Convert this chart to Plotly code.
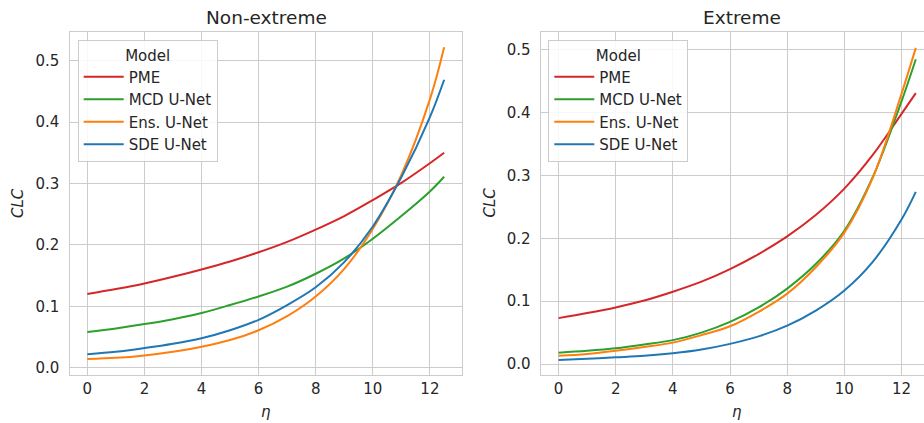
import plotly.graph_objects as go

# eta grid shared by every curve
eta = [0, 1, 2, 3, 4, 5, 6, 7, 8, 9, 10, 11, 12, 12.5]

# Non-extreme CLC per model
ne_pme = [0.120, 0.128, 0.137, 0.148, 0.160, 0.173, 0.188, 0.205, 0.225, 0.247, 0.273, 0.301, 0.333, 0.350]
ne_mcd = [0.058, 0.064, 0.071, 0.079, 0.089, 0.102, 0.116, 0.132, 0.153, 0.178, 0.210, 0.247, 0.287, 0.311]
ne_ens = [0.014, 0.016, 0.020, 0.026, 0.034, 0.045, 0.061, 0.084, 0.116, 0.161, 0.226, 0.314, 0.437, 0.522]
ne_sde = [0.022, 0.026, 0.032, 0.039, 0.048, 0.061, 0.078, 0.102, 0.131, 0.172, 0.230, 0.310, 0.408, 0.469]

# Extreme CLC per model
ex_pme = [0.073, 0.081, 0.090, 0.101, 0.115, 0.131, 0.151, 0.175, 0.203, 0.237, 0.279, 0.333, 0.398, 0.431]
ex_mcd = [0.018, 0.021, 0.025, 0.031, 0.038, 0.050, 0.067, 0.090, 0.120, 0.159, 0.212, 0.298, 0.418, 0.485]
ex_ens = [0.013, 0.016, 0.021, 0.027, 0.034, 0.046, 0.060, 0.083, 0.112, 0.154, 0.209, 0.297, 0.430, 0.503]
ex_sde = [0.0064, 0.0083, 0.0106, 0.013, 0.017, 0.023, 0.032, 0.044, 0.061, 0.085, 0.117, 0.163, 0.230, 0.274]

models = ["PME", "MCD U-Net", "Ens. U-Net", "SDE U-Net"]
colors = ["#d62728", "#2ca02c", "#ff7f0e", "#1f77b4"]

panels = [
    ("x", "y", "legend", [ne_pme, ne_mcd, ne_ens, ne_sde]),
    ("x2", "y2", "legend2", [ex_pme, ex_mcd, ex_ens, ex_sde]),
]

FONT = "DejaVu Sans"
TXT = "#262626"
GRID = "#cccccc"

# figure geometry (px)
W, H = 924, 423
TOP, BOTTOM = 32, 375


def py(px):
    """Pixel row -> paper y (paper spans the plot area between the margins)."""
    return (BOTTOM - px) / (BOTTOM - TOP)


fig = go.Figure()
for xa, ya, leg, series in panels:
    for name, col, vals in zip(models, colors, series):
        fig.add_trace(go.Scatter(
            x=eta, y=vals, name=name, mode="lines",
            line=dict(color=col, width=2, shape="spline", smoothing=1.0),
            xaxis=xa, yaxis=ya, legend=leg,
        ))

axis_common = dict(
    showgrid=True, gridcolor=GRID, gridwidth=1,
    showline=True, linecolor=GRID, linewidth=1.2,
    zeroline=False, ticks="",
    tickfont=dict(family=FONT, size=15, color=TXT),
)

legend_common = dict(
    title=dict(text="Model", side="top center", font=dict(family=FONT, size=15, color=TXT)),
    font=dict(family=FONT, size=15, color=TXT),
    bgcolor="rgba(255,255,255,0.85)",
    bordercolor=GRID, borderwidth=1,
    xanchor="left", yanchor="top",
    itemwidth=40,
)

fig.update_layout(
    width=W, height=H,
    margin=dict(l=0, r=0, t=TOP, b=H - BOTTOM),
    paper_bgcolor="white", plot_bgcolor="white",
    font=dict(family=FONT, color=TXT),
    xaxis=dict(domain=[69.5 / W, 462 / W], range=[-0.625, 13.125], dtick=2, tick0=0,
               mirror=True, anchor="y", **axis_common),
    yaxis=dict(domain=[0, 1], range=[-0.0119, 0.5467], dtick=0.1, tickformat=".1f",
               mirror=True, anchor="x", ticklabelstandoff=6, **axis_common),
    xaxis2=dict(domain=[540.7 / W, 1.0], range=[-0.625, 12.787], dtick=2, tick0=0,
                mirror=True, anchor="y2", **axis_common),
    yaxis2=dict(domain=[0, 1], range=[-0.0175, 0.5283], dtick=0.1, tickformat=".1f",
                mirror=False, anchor="x2", ticklabelstandoff=6, **axis_common),
    legend=dict(x=77.7 / W, y=py(40), **legend_common),
    legend2=dict(x=548.3 / W, y=py(40), **legend_common),
    showlegend=True,
)

# Panel titles and axis labels
annots = [
    dict(text="Non-extreme", x=266, y=17, size=18.5, angle=0),
    dict(text="Extreme", x=742, y=17, size=18.5, angle=0),
    dict(text="<i>η</i>", x=266, y=412, size=15, angle=0),
    dict(text="<i>η</i>", x=737, y=412, size=15, angle=0),
    dict(text="<i>CLC</i>", x=18, y=203, size=15, angle=-90),
    dict(text="<i>CLC</i>", x=489.5, y=203, size=15, angle=-90),
]
for a in annots:
    fig.add_annotation(
        text=a["text"], x=a["x"] / W, y=py(a["y"]), xref="paper", yref="paper",
        xanchor="center", yanchor="middle", showarrow=False, textangle=a["angle"],
        font=dict(family=FONT, size=a["size"], color=TXT),
    )

fig.write_html("out.html")
